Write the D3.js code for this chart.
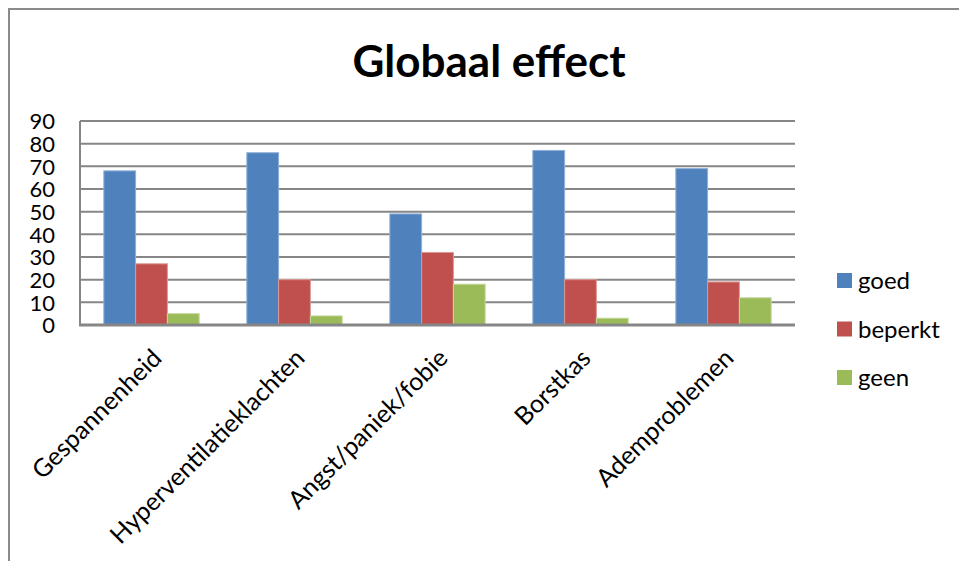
<!DOCTYPE html>
<html>
<head>
<meta charset="utf-8">
<script src="https://cdn.jsdelivr.net/npm/d3@7"></script>
<style>
  html, body { margin: 0; padding: 0; background: #fff; }
  svg { display: block; }
  text { font-family: Lato, "Open Sans", sans-serif; fill: #000; }
</style>
</head>
<body>
<svg id="chart" width="959" height="561"></svg>
<script>
// Chart data
const categories = ["Gespannenheid", "Hyperventilatieklachten", "Angst/paniek/fobie", "Borstkas", "Ademproblemen"];
const seriesNames = ["goed", "beperkt", "geen"];
const goed    = [68, 76, 49, 77, 69];
const beperkt = [27, 20, 32, 20, 19];
const geen    = [5, 4, 18, 3, 12];
const yTicks  = [0, 10, 20, 30, 40, 50, 60, 70, 80, 90];
const title   = "Globaal effect";

const seriesValues = [goed, beperkt, geen];
const colors = ["#4F81BD", "#C0504D", "#9BBB59"];
const edges  = ["#8FB0D8", "#DC9896", "#C3D89A"];

const svg = d3.select("#chart");

// Outer frame (left and top edges)
svg.append("path")
  .attr("d", "M9,561 V9 H959")
  .attr("fill", "none")
  .attr("stroke", "#8a8a8a")
  .attr("stroke-width", 2);

// Plot area
const plot = { left: 80, right: 795, top: 121, bottom: 325 };

const x0 = d3.scaleBand()
  .domain(categories)
  .range([plot.left, plot.right])
  .paddingInner(0)
  .paddingOuter(0);

const x1 = d3.scaleBand()
  .domain(seriesNames)
  .range([0, x0.bandwidth()])
  .paddingOuter(0.75)   // gap width of 150% between groups
  .paddingInner(0);

const y = d3.scaleLinear()
  .domain([0, 90])
  .range([plot.bottom, plot.top]);

// Horizontal gridlines
svg.append("g")
  .selectAll("line")
  .data(yTicks.filter(t => t > 0))
  .join("line")
  .attr("x1", plot.left)
  .attr("x2", plot.right)
  .attr("y1", d => y(d))
  .attr("y2", d => y(d))
  .attr("stroke", "#868686")
  .attr("stroke-width", 2);

// Value axis line
svg.append("line")
  .attr("x1", plot.left).attr("x2", plot.left)
  .attr("y1", plot.top).attr("y2", plot.bottom)
  .attr("stroke", "#868686")
  .attr("stroke-width", 2);

// Y tick labels
const yAxis = d3.axisLeft(y).tickValues(yTicks).tickSize(0).tickPadding(25);
const yg = svg.append("g")
  .attr("transform", `translate(${plot.left},0)`)
  .call(yAxis);
yg.select(".domain").remove();
yg.selectAll("text")
  .style("font-family", "Lato, 'Open Sans', sans-serif")
  .style("font-size", "22px")
  .attr("fill", "#000")
  .attr("dy", "0.36em");

// Bars
const groups = svg.append("g")
  .selectAll("g")
  .data(categories)
  .join("g")
  .attr("transform", d => `translate(${x0(d)},0)`);

groups.selectAll("rect")
  .data((d, i) => seriesNames.map((s, j) => ({ s, j, v: seriesValues[j][i] })))
  .join("rect")
  .attr("x", d => x1(d.s))
  .attr("y", d => y(d.v))
  .attr("width", x1.bandwidth())
  .attr("height", d => y(0) - y(d.v))
  .attr("fill", d => colors[d.j])
  .attr("stroke", d => edges[d.j])
  .attr("stroke-width", 1);

// Category axis line
svg.append("line")
  .attr("x1", plot.left - 1).attr("x2", plot.right)
  .attr("y1", plot.bottom).attr("y2", plot.bottom)
  .attr("stroke", "#868686")
  .attr("stroke-width", 3);

// Rotated category labels
svg.append("g")
  .selectAll("text")
  .data(categories)
  .join("text")
  .attr("transform", d => `translate(${x0(d) + x0.bandwidth() / 2 - 1},347) rotate(-45)`)
  .attr("text-anchor", "end")
  .attr("dy", "0.72em")
  .style("font-size", "25px")
  .text(d => d);

// Title
svg.append("text")
  .attr("x", 489)
  .attr("y", 77)
  .attr("text-anchor", "middle")
  .style("font-size", "44px")
  .style("font-weight", "bold")
  .text(title);

// Legend
const legend = svg.append("g")
  .selectAll("g")
  .data(seriesNames)
  .join("g")
  .attr("transform", (d, i) => `translate(837,${273 + i * 48.5})`);

legend.append("rect")
  .attr("width", 15)
  .attr("height", 15)
  .attr("fill", (d, i) => colors[i]);

legend.append("text")
  .attr("x", 21)
  .attr("y", 8)
  .attr("dy", "0.35em")
  .style("font-size", "24px")
  .text(d => d);
</script>
</body>
</html>
